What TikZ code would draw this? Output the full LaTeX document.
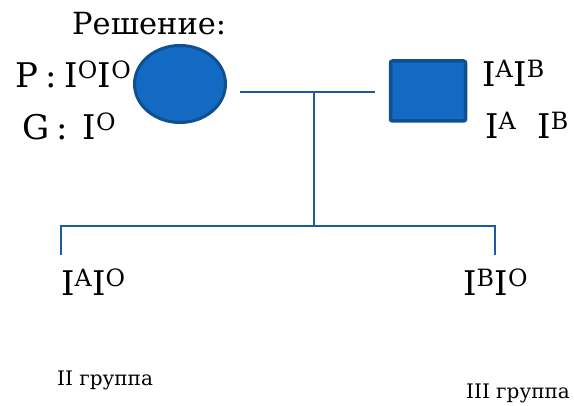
\documentclass[tikz,border=0pt]{standalone}
\usepackage{fontspec}
\setmainfont{DejaVu Serif}
\usetikzlibrary{shapes.geometric}
\definecolor{symfill}{RGB}{18,106,194}
\definecolor{symedge}{RGB}{14,80,145}
\definecolor{linecol}{RGB}{30,90,160}
\tikzset{
  gen/.style={inner sep=0pt, anchor=base west, font=\fontsize{34}{38}\selectfont},
  head/.style={inner sep=0pt, anchor=base west, font=\fontsize{30.5}{34}\selectfont},
  grp/.style={inner sep=0pt, anchor=base west, font=\fontsize{20}{24}\selectfont},
  female/.style={ellipse, draw=symedge, fill=symfill, line width=3pt, minimum width=91pt, minimum height=77pt, inner sep=0pt},
  male/.style={rectangle, rounded corners=2pt, draw=symedge, fill=symfill, line width=3.5pt, minimum width=75pt, minimum height=60pt, inner sep=0pt},
  link/.style={draw=linecol, line width=1.8pt}
}
\begin{document}
\begin{tikzpicture}[x=1pt,y=-1pt]
\useasboundingbox (0,0) rectangle (574,406);
\node[head] (title) at (72,35) {Решение:};
\node[gen] (p) at (15,88) {P\hspace{7pt}:\hspace{8pt}I\textsuperscript{O}I\textsuperscript{O}};
\node[gen] (g) at (22,140) {G\hspace{7pt}:\hspace{15pt}I\textsuperscript{O}};
\node[female] (mother) at (180,84) {};
\node[male] (father) at (428,91) {};
\node[gen] (fg) at (482,87) {I\textsuperscript{A}I\textsuperscript{B}};
\node[gen] (fgam) at (485,139) {I\textsuperscript{A}\hspace{21pt}I\textsuperscript{B}};
\coordinate (mL) at (240,92);
\coordinate (mR) at (375,92);
\coordinate (mid) at (314,92);
\coordinate (bar) at (314,226);
\coordinate (barL) at (61,226);
\coordinate (barR) at (495,226);
\coordinate (cL) at (61,255);
\coordinate (cR) at (495,255);
\draw[link] (mL) -- (mR);
\draw[link] (mid) -- (bar);
\draw[link] (cL) -- (barL) -- (barR) -- (cR);
\node[gen] (c1) at (61,296) {I\textsuperscript{A}I\textsuperscript{O}};
\node[gen] (c2) at (463,296) {I\textsuperscript{B}I\textsuperscript{O}};
\node[grp] (g1) at (57,386) {II группа};
\node[grp] (g2) at (466,399) {III группа};
\end{tikzpicture}
\end{document}
